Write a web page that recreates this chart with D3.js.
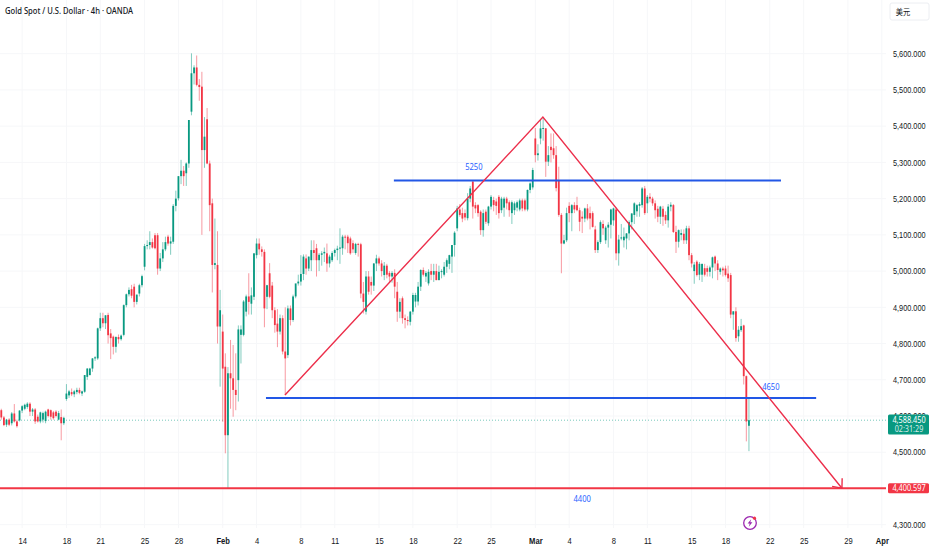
<!DOCTYPE html>
<html>
<head>
<meta charset="utf-8">
<title>Gold Spot / U.S. Dollar</title>
<script src="https://cdn.jsdelivr.net/npm/d3@7"></script>
<style>
  body { margin: 0; background: #fff; }
  svg { display: block; font-family: "Noto Sans", "Noto Sans CJK SC", sans-serif; }
  .domain { display: none; }
</style>
</head>
<body>
<svg id="chart"></svg>
<script>
// 4h candles
const opens = [
  4616,4596,4576,4590,4580,4607,4585,4588,4615,4620,
  4625,4634,4612,4618,4598,4585,4590,4586,4618,4616,
  4610,4612,4590,4597,4580,4647,4657,4666,4660,4666,
  4672,4662,4667,4708,4713,4731,4759,4759,4842,4870,
  4856,4879,4828,4819,4791,4818,4812,4824,4906,4936,
  4950,4957,4915,4938,4961,5012,5069,5072,5080,5099,
  5099,5007,5035,5060,5095,5076,5081,5180,5201,5262,
  5277,5270,5297,5440,5546,5562,5514,5509,5334,5419,
  5297,5187,5017,5017,4847,4833,4736,4547,4718,4704,
  4672,4699,4824,4824,4888,4930,4910,4929,5044,5076,
  5060,5053,4929,4994,4960,4892,4855,4833,4870,4778,
  4768,4897,4865,4930,4966,4971,4992,5035,5007,5030,
  5058,5063,5030,5045,5049,5049,5021,5030,5050,5058,
  5062,5063,5095,5095,5090,5077,5050,5075,5074,4938,
  4888,4985,4970,4960,5021,5035,5021,4989,5015,4995,
  4985,4995,4943,4888,4925,4870,4865,4860,4888,4916,
  4916,4957,5003,4985,4966,5000,4990,5000,4975,4998,
  4990,5012,5020,5040,5072,5118,5170,5160,5160,5146,
  5200,5247,5182,5182,5164,5113,5164,5132,5178,5196,
  5192,5205,5168,5175,5200,5190,5160,5168,5175,5170,
  5195,5195,5170,5224,5231,5366,5320,5366,5394,5394,
  5302,5343,5339,5320,5251,5155,5076,5085,5180,5160,
  5182,5182,5168,5150,5145,5173,5160,5160,5115,5058,
  5080,5130,5085,5120,5128,5140,5170,5049,5090,5085,
  5090,5104,5135,5155,5165,5180,5182,5228,5187,5205,
  5200,5187,5172,5150,5172,5155,5140,5178,5182,5108,
  5081,5100,5103,5085,5118,5044,5000,5026,4990,4990,
  5008,5008,4998,5010,5040,5021,4998,5007,5007,
  4993,4989,4880,4889,4820,4837,4850,4710,4573
];
const highs = [
  4620,4600,4592,4594,4611,4633,4590,4616,4630,4634,
  4638,4638,4622,4622,4604,4612,4612,4615,4620,4618,
  4614,4616,4614,4618,4598,4688,4672,4676,4672,4678,
  4678,4670,4713,4732,4733,4760,4765,4844,4885,4885,
  4878,4885,4840,4822,4820,4825,4825,4908,4938,4955,
  4962,4965,4935,4965,4990,5075,5085,5110,5090,5105,
  5105,5050,5080,5095,5100,5095,5185,5222,5262,5307,
  5290,5300,5417,5601,5568,5595,5530,5550,5425,5450,
  5305,5200,5145,5110,4948,4880,4773,4735,4810,4796,
  4773,4850,4850,4920,4935,4994,4955,5049,5090,5090,
  5068,5060,4962,5022,4970,4900,4895,4880,4878,4900,
  4905,4905,4935,4955,4990,5044,5046,5046,5040,5085,
  5085,5075,5050,5055,5065,5076,5045,5055,5062,5070,
  5118,5100,5100,5100,5095,5085,5078,5078,5078,4970,
  5000,5000,4985,5022,5045,5040,5030,5025,5020,5000,
  5000,5005,4970,4925,4930,4880,4875,4890,4940,4940,
  4970,5005,5010,5000,5005,5020,5020,5020,5015,5005,
  5025,5035,5045,5070,5110,5180,5185,5175,5170,5215,
  5235,5250,5190,5185,5168,5170,5170,5180,5210,5205,
  5200,5210,5205,5205,5205,5195,5195,5192,5195,5200,
  5200,5200,5225,5245,5285,5395,5350,5417,5425,5395,
  5345,5380,5380,5345,5288,5160,5100,5175,5190,5185,
  5190,5205,5175,5165,5175,5185,5178,5165,5125,5085,
  5140,5140,5125,5135,5172,5175,5175,5100,5130,5120,
  5105,5140,5160,5190,5185,5190,5232,5235,5210,5215,
  5205,5195,5180,5180,5180,5165,5185,5190,5185,5125,
  5115,5115,5115,5125,5125,5050,5025,5030,5025,5020,
  5020,5015,5015,5040,5043,5030,5010,5012,5015,
  5015,4995,4889,4900,4848,4868,4852,4712,4650
];
const lows = [
  4590,4572,4570,4572,4574,4582,4568,4585,4608,4616,
  4620,4600,4600,4578,4582,4580,4582,4580,4596,4590,
  4590,4596,4588,4533,4575,4642,4650,4655,4652,4660,
  4660,4655,4664,4700,4712,4722,4752,4755,4835,4845,
  4840,4800,4757,4770,4775,4800,4808,4820,4900,4930,
  4925,4900,4908,4930,4955,5002,5060,5060,5062,5060,
  4990,5000,5025,5055,5070,5045,5075,5165,5195,5240,
  5235,5235,5285,5430,5515,5510,5470,5100,5285,5295,
  5110,4941,5005,4800,4681,4584,4497,4400,4620,4598,
  4616,4640,4745,4820,4875,4880,4880,4920,5035,5045,
  5040,4845,4895,4925,4870,4830,4790,4825,4770,4658,
  4760,4850,4860,4925,4960,4960,4975,4990,5000,5000,
  5030,4985,5000,5015,5025,4998,5010,5025,5040,5030,
  5020,5045,5060,5050,5045,5050,5045,5040,4925,4883,
  4880,4935,4935,4945,5000,5015,4985,4975,4980,4970,
  4968,4925,4860,4870,4855,4842,4850,4850,4880,4900,
  4905,4945,4985,4970,4960,4975,4970,4975,4975,4980,
  4985,4995,5005,4995,5040,5110,5150,5135,5140,5140,
  5190,5145,5160,5150,5100,5095,5130,5125,5170,5165,
  5155,5145,5160,5150,5170,5150,5130,5155,5165,5165,
  5165,5165,5165,5215,5225,5300,5305,5350,5360,5260,
  5290,5300,5310,5220,5150,4994,5074,5080,5135,5110,
  5160,5165,5110,5105,5135,5140,5115,5120,5050,5050,
  5075,5100,5075,5065,5090,5125,5030,5015,5085,5065,
  5060,5085,5115,5130,5150,5150,5175,5155,5160,5190,
  5180,5145,5135,5130,5125,5130,5120,5165,5105,5050,
  5065,5085,5075,5075,5030,5010,4965,4985,4975,4970,
  4985,4985,4985,4980,5000,4975,4990,4985,4985,
  4970,4870,4838,4805,4805,4832,4687,4530,4503
];
const closes = [
  4596,4575,4590,4576,4607,4585,4572,4615,4627,4631,
  4634,4612,4618,4585,4585,4610,4608,4612,4600,4598,
  4594,4600,4608,4580,4595,4662,4668,4660,4668,4672,
  4664,4668,4713,4731,4731,4759,4762,4842,4870,4856,
  4878,4823,4815,4791,4818,4812,4822,4906,4936,4948,
  4932,4915,4935,4961,4986,5069,5072,5080,5065,5063,
  5007,5035,5060,5080,5076,5082,5180,5200,5262,5277,
  5262,5297,5417,5546,5562,5514,5508,5334,5371,5297,
  5182,5017,5022,4847,4892,4731,4547,4718,4704,4672,
  4658,4839,4839,4916,4930,4915,4933,5049,5076,5060,
  5053,4897,4961,4929,4892,4851,4833,4870,4778,4759,
  4897,4865,4930,4966,4971,4992,5040,5007,5040,5058,
  5050,5030,5045,5049,5053,5021,5040,5050,5058,5062,
  5065,5095,5093,5077,5049,5060,5075,5074,4938,4915,
  4985,4943,4960,5021,5035,5021,5000,5015,4990,4985,
  4995,4957,4888,4915,4870,4865,4862,4888,4934,4934,
  4957,5003,4990,4995,4998,4990,5000,4975,4998,5000,
  5012,5030,5044,5072,5106,5173,5155,5145,5148,5200,
  5228,5178,5173,5160,5113,5160,5136,5178,5205,5182,
  5180,5160,5200,5200,5187,5168,5190,5187,5190,5195,
  5173,5170,5224,5242,5279,5320,5325,5394,5395,5302,
  5320,5334,5320,5229,5155,5076,5085,5160,5160,5182,
  5170,5168,5136,5145,5173,5145,5145,5122,5058,5080,
  5135,5118,5120,5128,5170,5173,5049,5087,5093,5095,
  5104,5135,5159,5187,5182,5185,5228,5160,5205,5200,
  5187,5168,5150,5178,5150,5140,5178,5183,5108,5081,
  5113,5105,5085,5118,5044,5021,5018,4989,5020,5020,
  4990,4998,5010,5038,5021,5003,5007,5002,4989,
  4980,4880,4889,4815,4838,4848,4710,4585,4588.45
];

// Axis ticks: bar index and its label
const dateBars = [8,25,38,55,68,85,98,115,128,145,158,175,188,205,218,235,248,265,278,295,308,325,338];
const dateLabels = ["14","18","21","25","28","Feb","4","8","11","15","18","22","25","Mar","4","8","11","15","18","22","25","29","Apr"];
const priceTicks = [4300,4400,4500,4600,4700,4800,4900,5000,5100,5200,5300,5400,5500,5600];

// Drawings on the chart: [bar, price]
const swingPoints = [[108.9,4658],[207.9,5425],[322.7,4400.6]];
const levelLines = [
  { from: 150.7, to: 299.3, price: 5250 },
  { from: 101.6, to: 312.8, price: 4650 }
];
const notes = [
  { bar: 181.4, price: 5280, text: "5250" },
  { bar: 295.4, price: 4671, text: "4650" },
  { bar: 223, price: 4364, text: "4400" }
];
const lastPrice = 4588.45;
const supportPrice = 4400.597;

const width = 932, height = 550;
const plotRight = 886;
const upColor = "#089981", downColor = "#f23645", blue = "#2962ff", textColor = "#131722";

const svg = d3.select("#chart").attr("width", width).attr("height", height);
svg.append("rect").attr("width", width).attr("height", height).attr("fill", "#fff");

const x = d3.scaleLinear().domain([0, 338]).range([1.3, 881.8]);
const y = d3.scaleLinear().domain([4300, 5600]).range([524.7, 53.7]);

// the chart's font runs narrower than anything installed
function squeeze(sel, k) {
  sel.each(function() {
    d3.select(this)
      .attr("textLength", this.getComputedTextLength() * k)
      .attr("lengthAdjust", "spacingAndGlyphs");
  });
}

// Faint grid
const grid = svg.append("g").attr("stroke", "#f6f7f9").attr("stroke-width", 1);
grid.selectAll(".h").data(priceTicks).enter().append("line")
  .attr("x1", 0).attr("x2", plotRight)
  .attr("y1", d => y(d)).attr("y2", d => y(d));
grid.selectAll(".v").data(dateBars).enter().append("line")
  .attr("x1", d => x(d)).attr("x2", d => x(d))
  .attr("y1", 0).attr("y2", 528);

// Last price dotted line
svg.append("line")
  .attr("x1", 0).attr("x2", plotRight)
  .attr("y1", y(lastPrice)).attr("y2", y(lastPrice))
  .attr("stroke", upColor).attr("stroke-opacity", 0.55)
  .attr("stroke-dasharray", "1 2");

// Candles
const bars = d3.range(closes.length);
const candleColor = i => closes[i] >= opens[i] ? upColor : downColor;

svg.append("g").selectAll("line").data(bars).enter().append("line")
  .attr("x1", i => x(i)).attr("x2", i => x(i))
  .attr("y1", i => y(highs[i])).attr("y2", i => y(lows[i]))
  .attr("stroke", candleColor).attr("stroke-opacity", 0.5).attr("stroke-width", 1);

svg.append("g").selectAll("rect").data(bars).enter().append("rect")
  .attr("x", i => x(i) - 0.9)
  .attr("width", 1.8)
  .attr("y", i => y(Math.max(opens[i], closes[i])))
  .attr("height", i => Math.max(1, Math.abs(y(opens[i]) - y(closes[i]))))
  .attr("fill", candleColor);

// Blue levels
svg.append("g").selectAll("line").data(levelLines).enter().append("line")
  .attr("x1", d => x(d.from)).attr("x2", d => x(d.to))
  .attr("y1", d => y(d.price)).attr("y2", d => y(d.price))
  .attr("stroke", "#2257e6").attr("stroke-width", 2);

// Support line
svg.append("line")
  .attr("x1", 0).attr("x2", plotRight)
  .attr("y1", y(supportPrice)).attr("y2", y(supportPrice))
  .attr("stroke", downColor).attr("stroke-width", 2);

// Swing lines with arrow head on the last point
const swingLine = d3.line().x(d => x(d[0])).y(d => y(d[1]));
svg.append("path")
  .attr("d", swingLine(swingPoints))
  .attr("fill", "none").attr("stroke", "#ec2f4b").attr("stroke-width", 1.4);

const tipA = swingPoints[1], tipB = swingPoints[2];
const tipX = x(tipB[0]), tipY = y(tipB[1]);
const angle = Math.atan2(tipY - y(tipA[1]), tipX - x(tipA[0]));
const barb = a => [tipX - 10 * Math.cos(angle + a), tipY - 10 * Math.sin(angle + a)];
svg.append("path")
  .attr("d", d3.line()([barb(0.7), [tipX, tipY], barb(-0.7)]))
  .attr("fill", "none").attr("stroke", "#ec2f4b").attr("stroke-width", 1.4);

// Notes
svg.append("g").selectAll("text").data(notes).enter().append("text")
  .attr("x", d => x(d.bar)).attr("y", d => y(d.price))
  .attr("text-anchor", "middle")
  .attr("fill", blue).attr("font-size", 9.5)
  .text(d => d.text)
  .call(squeeze, 0.8);

// Axes
const xAxis = d3.axisBottom(x)
  .tickValues(dateBars)
  .tickSize(0)
  .tickFormat((d, i) => dateLabels[i]);
const gx = svg.append("g").attr("transform", "translate(0,534)").call(xAxis);
gx.selectAll("text")
  .attr("fill", textColor).attr("font-size", 9.5)
  .attr("font-weight", d => [85, 205, 338].includes(d) ? 600 : 400)
  .call(squeeze, 0.8);

// 4,400 sits under the red price box, so it gets no label
const yAxis = d3.axisRight(y)
  .tickValues(priceTicks.filter(d => d !== 4400))
  .tickSize(0)
  .tickFormat(d3.format(",.3f"));
const gy = svg.append("g").attr("transform", "translate(890,0)").call(yAxis);
gy.selectAll("text").attr("fill", textColor).attr("font-size", 8.5).call(squeeze, 0.86);

// Price boxes
svg.append("rect")
  .attr("x", 888).attr("y", y(lastPrice) - 5.6).attr("width", 41).attr("height", 20).attr("rx", 1.5)
  .attr("fill", upColor);
svg.append("text")
  .attr("x", 909).attr("y", y(lastPrice) + 2.6)
  .attr("text-anchor", "middle").attr("fill", "#fff").attr("font-size", 8.5)
  .text(d3.format(",.3f")(lastPrice))
  .call(squeeze, 0.86);
svg.append("text")
  .attr("x", 909).attr("y", y(lastPrice) + 12.2)
  .attr("text-anchor", "middle").attr("fill", "#fff").attr("fill-opacity", 0.85).attr("font-size", 8)
  .text("02:31:29")
  .call(squeeze, 0.9);

svg.append("rect")
  .attr("x", 888).attr("y", y(supportPrice) - 5).attr("width", 41).attr("height", 10).attr("rx", 1.5)
  .attr("fill", downColor);
svg.append("text")
  .attr("x", 909).attr("y", y(supportPrice) + 3.1)
  .attr("text-anchor", "middle").attr("fill", "#fff").attr("font-size", 8.5)
  .text(d3.format(",.3f")(supportPrice))
  .call(squeeze, 0.86);

// Title
svg.append("text")
  .attr("x", 5).attr("y", 14)
  .attr("fill", textColor).attr("font-size", 9.5).attr("font-weight", 500)
  .text("Gold Spot / U.S. Dollar · 4h · OANDA")
  .call(squeeze, 0.8);

// Currency button
svg.append("rect")
  .attr("x", 890).attr("y", 3).attr("width", 39).attr("height", 17).attr("rx", 2)
  .attr("fill", "#fff").attr("stroke", "#eceef2");
svg.append("text")
  .attr("x", 903).attr("y", 14.5)
  .attr("text-anchor", "middle").attr("fill", textColor).attr("font-size", 8.5)
  .text("美元")
  .call(squeeze, 0.85);

// Lightning badge
const badge = svg.append("g").attr("transform", "translate(750,523)");
badge.append("circle").attr("r", 6.3).attr("fill", "#fff").attr("stroke", "#9c27b0").attr("stroke-width", 1.3);
badge.append("path").attr("d", "M1.2,-3.8 L-2.4,0.6 L-0.3,0.6 L-1.2,3.8 L2.4,-0.8 L0.3,-0.8 Z").attr("fill", "#9c27b0");
badge.append("circle").attr("cx", 4.5).attr("cy", -4.8).attr("r", 1.6).attr("fill", downColor);
</script>
</body>
</html>
